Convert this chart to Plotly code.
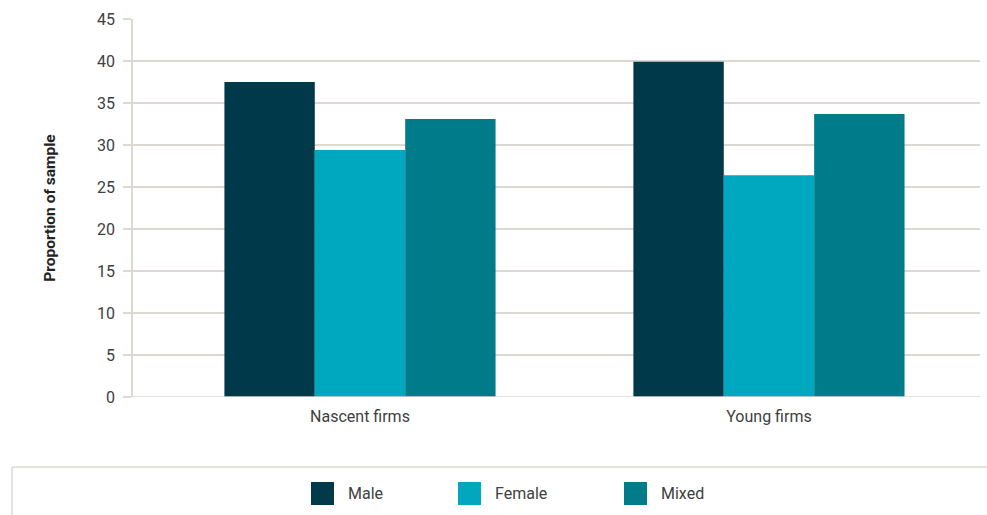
import plotly.graph_objects as go

categories = ["Nascent firms", "Young firms"]
series_names = ["Male", "Female", "Mixed"]
male = [37.5, 39.9]
female = [29.4, 26.4]
mixed = [33.1, 33.7]
values = [male, female, mixed]
colors = ["#003a4a", "#00a8bf", "#007b8a"]
y_ticks = [0, 5, 10, 15, 20, 25, 30, 35, 40, 45]

W, H = 987, 515
ml, mr, mt, mb = 133, 7, 19, 118

fig = go.Figure()
for name, vals, col in zip(series_names, values, colors):
    fig.add_trace(go.Bar(x=[0, 1], y=vals, name=name, marker_color=col,
                         marker_line_width=0, showlegend=False))

grid = "#dcd8d2"
font = "Roboto, 'DejaVu Sans', sans-serif"
fig.update_layout(
    width=W, height=H,
    margin=dict(l=ml, r=mr, t=mt, b=mb),
    paper_bgcolor="white", plot_bgcolor="white",
    barmode="group", bargap=0.337, bargroupgap=0,
    font=dict(family=font, size=16, color="#404040"),
    xaxis=dict(range=[-0.555, 1.516], tickmode="array", tickvals=[0, 1],
               ticktext=categories, showgrid=False, zeroline=False,
               showline=False, ticks="", ticklabelstandoff=8,
               tickfont=dict(size=16, color="#404040")),
    yaxis=dict(range=[0, 45], tickmode="array", tickvals=y_ticks,
               showgrid=True, gridcolor=grid, gridwidth=1.5, zeroline=False,
               showline=True, linecolor=grid, linewidth=1.5,
               ticks="outside", ticklen=8, tickcolor=grid, tickwidth=1.5,
               ticklabelstandoff=5,
               tickfont=dict(size=16, color="#404040"),
               title=dict(text="<b>Proportion of sample</b>", standoff=38,
                          font=dict(size=15.5, color="#222222"))),
)

# baseline
fig.add_shape(type="line", xref="paper", yref="y", x0=0, x1=1, y0=0, y1=0,
              line=dict(color=grid, width=1.5), layer="above")

pw = W - ml - mr
ph = H - mt - mb

# legend box (manual, larger swatches)
box_top = 467
fig.add_shape(type="line", xref="paper", yref="paper",
              x0=(12 - ml) / pw, x1=(W - ml) / pw,
              y0=(H - mb - box_top) / ph, y1=(H - mb - box_top) / ph,
              line=dict(color=grid, width=1.5))
fig.add_shape(type="line", xref="paper", yref="paper",
              x0=(12 - ml) / pw, x1=(12 - ml) / pw,
              y0=(H - mb - box_top) / ph, y1=(H - mb - H) / ph,
              line=dict(color=grid, width=1.5))

sw_x = [311, 458, 624]
sw_y0, sw_y1 = 482, 505
for name, col, sx in zip(series_names, colors, sw_x):
    fig.add_shape(type="rect", xref="paper", yref="paper",
                  x0=(sx - ml) / pw, x1=(sx + 23 - ml) / pw,
                  y0=(H - mb - sw_y1) / ph, y1=(H - mb - sw_y0) / ph,
                  fillcolor=col, line=dict(width=0))
    fig.add_annotation(xref="paper", yref="paper", x=(sx + 35 - ml) / pw,
                       y=(H - mb - (sw_y0 + sw_y1) / 2) / ph,
                       text=name, showarrow=False, xanchor="left", yanchor="middle",
                       font=dict(size=16, color="#404040"))

fig.write_html("out.html")
